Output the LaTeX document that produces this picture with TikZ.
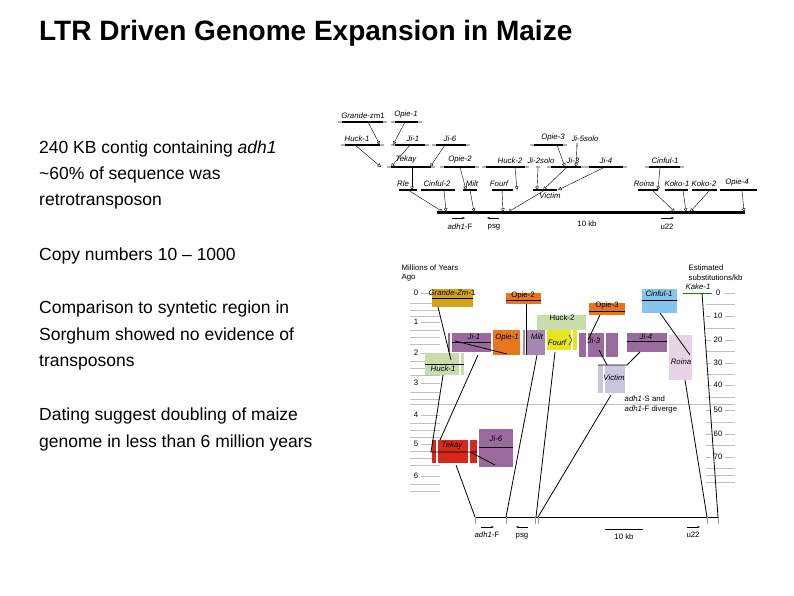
\documentclass[tikz,border=0pt]{standalone}
\usepackage{fontspec}
\setmainfont{Liberation Sans}
\usetikzlibrary{arrows.meta}
\definecolor{gold}{HTML}{D4A417}
\definecolor{orng}{HTML}{E8761C}
\definecolor{sky}{HTML}{86C4EE}
\definecolor{lgreen}{HTML}{C8DDAA}
\definecolor{purp}{HTML}{9A6A9E}
\definecolor{lpurp}{HTML}{A888B2}
\definecolor{yel}{HTML}{E6E620}
\definecolor{pink}{HTML}{E4D4E4}
\definecolor{lav}{HTML}{CAC6DE}
\definecolor{tred}{HTML}{D8281E}
\tikzset{
 bar/.style={line width=2.8pt,black},
 gbar/.style={line width=2.8pt,black!30},
 te/.style={font=\fontsize{7.8}{8}\selectfont\itshape,inner sep=0.5pt},
 tx/.style={font=\fontsize{7.8}{8}\selectfont,inner sep=0.5pt},
 ins/.style={thin,-{Triangle[open,length=3.5pt,width=3.5pt]}},
 conn/.style={line width=0.8pt},
 body/.style={font=\fontsize{17.5}{20}\selectfont,anchor=west,inner sep=0},
 ax/.style={black!25,line width=0.5pt},
}
\newcommand{\tbar}[4]{% name, x1, x2, y
 \draw[gbar] (#2-4,#4) -- (#2,#4); \draw[gbar] (#3,#4) -- (#3+4,#4);
 \draw[bar] (#2,#4) -- (#3,#4);
 \coordinate (#1) at ({(#2+#3)/2},#4);}
\begin{document}
\begin{tikzpicture}[x=1pt,y=-1pt]
\useasboundingbox[fill=white] (0,0) rectangle (794,595);
% left text
\node[anchor=west,inner sep=0,font=\fontsize{28}{30}\selectfont\bfseries] (title) at (39,33) {LTR Driven Genome Expansion in Maize};
\node[body] (t1) at (39,149) {240 KB contig containing \textit{adh1}};
\node[body] (t2) at (39,175) {\textasciitilde 60\% of sequence was};
\node[body] (t3) at (39,202) {retrotransposon};
\node[body] (t4) at (39,256) {Copy numbers 10 – 1000};
\node[body] (t5) at (39,309) {Comparison to syntetic region in};
\node[body] (t6) at (39,336) {Sorghum showed no evidence of};
\node[body] (t7) at (39,363) {transposons};
\node[body] (t8) at (39,416) {Dating suggest doubling of maize};
\node[body] (t9) at (39,443) {genome in less than 6 million years};

% ===== top figure =====
\tbar{gr}{342}{383}{122} \node[te,above,font=\fontsize{7.8}{8}\selectfont] (lgr) at (363,119) {\textit{Grande}-zm1};
\tbar{o1}{395}{418}{122} \node[te,above] (lo1) at (406,119) {Opie-1};
\tbar{h1}{345}{380}{145} \node[te,above] (lh1) at (357,142) {Huck-1};
\tbar{j1}{395}{425}{145} \node[te,above] (lj1) at (413,142) {Ji-1};
\tbar{j6}{436}{466}{145} \node[te,above] (lj6) at (450,142) {Ji-6};
\tbar{o3}{534}{563}{145} \node[te,above] (lo3) at (553,142) {Opie-3};
\draw[gbar] (577,143) -- (577,147); \node[te,above] (lj5) at (585,142) {Ji-5solo};
\tbar{tk}{391}{431}{167} \node[te,above] (ltk) at (406,164) {Tekay};
\tbar{o2}{444}{475}{167} \node[te,above] (lo2) at (460,164) {Opie-2};
\tbar{h2}{486}{525}{167} \node[te,above] (lh2) at (510,164) {Huck-2};
\draw[gbar] (536,167) -- (540,167); \node[te,above] (lj2) at (541,164) {Ji-2solo};
\tbar{j3}{551}{581}{167} \node[te,above] (lj3) at (573,164) {Ji-3};
\tbar{j4}{589}{623}{167} \node[te,above] (lj4) at (606,164) {Ji-4};
\tbar{c1}{649}{680}{167} \node[te,above] (lc1) at (665,164) {Cinful-1};
\draw[bar] (399,190) -- (417,190); \node[te,above] (lrl) at (403,187) {Rle};
\draw[bar] (421,190) -- (455,190); \node[te,above] (lc2) at (437,187) {Cinful-2};
\draw[bar] (463,190) -- (477,190); \node[te,above] (lmi) at (472,187) {Milt};
\draw[bar] (492,190) -- (513,190); \node[te,above] (lfo) at (499,187) {Fourf};
\draw[bar] (533,190) -- (557,190); \node[te,below] (lvi) at (550,192) {Victim};
\draw[bar] (638,190) -- (658,190); \node[te,above] (lro) at (644,187) {Roina};
\draw[bar] (665,190) -- (688,190); \node[te,above] (lk1) at (677,187) {Koko-1};
\draw[bar] (692,190) -- (717,190); \node[te,above] (lk2) at (704,187) {Koko-2};
\draw[bar] (720,190) -- (757,190); \node[te,above] (lo4) at (737,187) {Opie-4};
\draw[line width=3pt] (437,212) -- (745,212);
\foreach \ax/\ay/\bx/\by in {368/122/380/145, 405/122/393/145, 355/145/381/167, 410/145/391/167, 445/145/430/167,
 412/167/412/190, 460/167/466/190, 515/167/517/190, 538/167/537/190, 557/145/565/167, 577/145/576/167,
 567/167/543/190, 605/167/558/190, 660/167/658/190,
 408/190/443/212, 444/190/446/212, 470/190/474/212, 502/190/503/212, 545/190/508/212,
 652/190/675/212, 683/190/686/212, 710/190/690/212, 742/190/744/212}
 {\draw[ins] (\ax,\ay) -- (\bx,\by);}
\draw[-{Stealth[length=3pt]}] (452,218) -- (465,218); \node[tx] (la1) at (460,227) {\textit{adh1}-F};
\draw[-{Stealth[length=3pt]}] (499,218) -- (487,218); \node[tx] (lps) at (494,227) {psg};
\node[tx] (l10) at (587,224) {10 kb};
\draw[-{Stealth[length=3pt]}] (661,218) -- (674,218); \node[tx] (lu) at (667,227) {u22};

% ===== bottom figure =====
\node[tx,anchor=west] (my1) at (401,268) {Millions of Years};
\node[tx,anchor=west] (my2) at (401,278) {Ago};
\node[tx,anchor=west] (es1) at (688,268) {Estimated};
\node[tx,anchor=west] (es2) at (688,278) {substitutions/kb};
% left axis
\foreach \v/\y in {0/293,1/322,2/353,3/383,4/415,5/444,6/476}{
 \node[tx] at (416,\y) {\v}; \draw[ax] (421,\y) -- (440,\y);}
\foreach \y in {303,310,316,330,337,344,361,368,375,392,399,423,430,437,451,458,465,484,491}{\draw[ax] (410,\y) -- (440,\y);}
% right axis
\foreach \v/\y in {0/293,10/316,20/340,30/363,40/385,50/410,60/434,70/457}{
 \node[tx] at (718,\y) {\v}; \draw[ax] (706,\y) -- (711,\y); \draw[ax] (725,\y) -- (735,\y);}
\foreach \y in {304,328,351,374,397,422,445,468,475,482}{\draw[ax] (706,\y) -- (735,\y);}
\draw[black!25,line width=1pt] (410,404) -- (735,404);
% boxes
\fill[gold] (432,289) rectangle (473,307); \draw[thin] (432,298) -- (473,298); \node[tx] (bgr) at (452,293) {\textit{Grande-Zm}-1};
\fill[orng] (506,293) rectangle (541,304); \draw[thin] (506,300) -- (541,300); \node[tx] (bo2) at (523,295) {Opie-2};
\fill[sky] (642,289) rectangle (677,313); \draw[thin] (642,300) -- (677,300); \node[te] (bc1) at (659,294) {Cinful-1};
\node[te] (bk1) at (698,287) {Kake-1}; \draw[green!55!black,line width=1pt] (683,293) -- (712,293);
\fill[orng] (589,303) rectangle (625,315); \draw[thin] (589,311) -- (625,311); \node[tx] (bo3) at (607,305) {Opie-3};
\fill[lgreen] (537,315) rectangle (586,330); \node[tx] (bh2) at (562,318) {Huck-2};
\fill[purp] (448,333) rectangle (491,352); \fill[white] (450,333) rectangle (452,352); \draw[thin] (452,342) -- (491,342); \node[te] (bj1) at (474,337) {Ji-1};
\fill[orng] (493,330) rectangle (520,355); \node[te] (bo1) at (507,337) {Opie-1};
\fill[lpurp] (523,330) rectangle (545,355); \fill[white] (525,330) rectangle (526.5,355); \node[te] (bmi) at (537,337) {Milt};
\fill[yel] (547,330) rectangle (577,350); \fill[white] (571,330) rectangle (572.5,350); \node[te] (bfo) at (557,343) {Fourf};
\draw[thin] (569,335) -- (572,340) -- (569,345);
\fill[purp] (579,333) rectangle (618,357); \fill[white] (586,333) rectangle (587.5,357); \fill[white] (604,333) rectangle (605.5,357); \node[te] (bj3) at (594,341) {Ji-3};
\fill[purp] (627,333) rectangle (667,352); \draw[thin] (627,341) -- (667,341); \node[te] (bj4) at (646,337) {Ji-4};
\fill[pink] (669,335) rectangle (692,380); \node[te] (bro) at (681,362) {Roina};
\fill[lav] (598,365) rectangle (625,393); \fill[white] (603,365) rectangle (604.5,393); \node[te] (bvi) at (614,378) {Victim};
\fill[lgreen] (425,353) rectangle (464,375); \fill[white] (459,353) rectangle (460.5,375); \draw[thin] (425,364) -- (464,364); \node[te] (bh1) at (443,369) {Huck-1};
\fill[tred] (432,440) rectangle (477,463); \fill[white] (436,440) rectangle (438,463); \fill[white] (468,440) rectangle (470,463); \node[te] (btk) at (452,445) {Tekay};
\fill[purp] (479,429) rectangle (513,467); \draw[thin] (479,447) -- (513,447); \node[te] (bj6) at (496,439) {Ji-6};
\node[tx,anchor=west] (dv1) at (624,399) {\textit{adh1}-S and};
\node[tx,anchor=west] (dv2) at (624,409) {\textit{adh1}-F diverge};
% connectors
\draw[conn] (438,307) -- (451,360);
\draw[conn] (443,375) -- (431,452) -- (477,452);
\draw[conn] (455,341) -- (507,354);
\draw[conn] (478,355) -- (440,440);
\draw[conn] (470,452) -- (495,465);
\draw[conn] (456,465) -- (475,517);
\draw[conn] (526,304) -- (526,355);
\draw[conn] (537,355) -- (506,517);
\draw[conn] (555,352) -- (536,517);
\draw[conn] (600,315) -- (588,340);
\draw[conn] (599,350) -- (607,365); \draw[conn] (598,365) -- (627,365) -- (640,352);
\draw[conn] (611,395) -- (538,517);
\draw[conn] (660,313) -- (690,355);
\draw[conn] (685,380) -- (707,517);
\draw[conn] (702,293) -- (718,517);
% bottom sequence
\draw[line width=0.8pt] (475,517) -- (718,517);
\foreach \x in {475,506,535,538,707,718}{\draw[black!40] (\x,517) -- (\x,524);}
\draw[-{Stealth[length=3pt]}] (481,527) -- (494,527); \node[tx] (ba1) at (487,535) {\textit{adh1}-F};
\draw[-{Stealth[length=3pt]}] (528,527) -- (516,527); \node[tx] (bps) at (522,536) {psg};
\draw[line width=1pt] (605,529) -- (643,529); \node[tx] (b10) at (624,537) {10 kb};
\draw[-{Stealth[length=3pt]}] (687,527) -- (700,527); \node[tx] (bu) at (693,535) {u22};
\end{tikzpicture}
\end{document}
